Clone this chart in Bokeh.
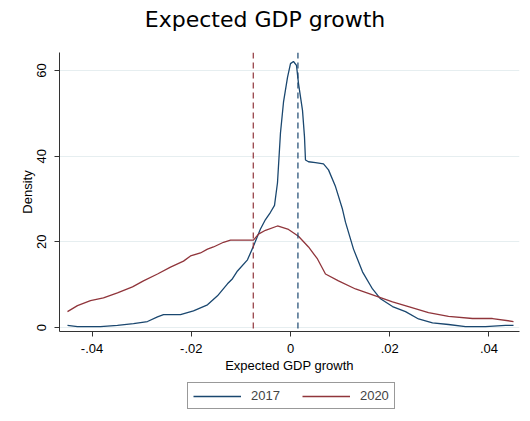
from bokeh.plotting import figure
from bokeh.models import Range1d, FixedTicker, Legend, LegendItem, Span, Div
from bokeh.layouts import column
from bokeh.embed import file_html
from bokeh.resources import INLINE

# Kernel density of expected GDP growth, 2017
x_2017 = [-0.04494, -0.04293, -0.03829, -0.03487, -0.03164, -0.02882, -0.02680, -0.02559,
          -0.02217, -0.01955, -0.01673, -0.01471, -0.01270, -0.01169, -0.01068, -0.00867,
          -0.00746, -0.00605, -0.00504, -0.00403, -0.00322, -0.00262, -0.00202, -0.00141,
          -0.00060, 0.00000, 0.00060, 0.00121, 0.00161, 0.00242, 0.00282, 0.00302,
          0.00363, 0.00504, 0.00665, 0.00766, 0.00907, 0.01048, 0.01108, 0.01270,
          0.01451, 0.01653, 0.01814, 0.02056, 0.02318, 0.02580, 0.02862, 0.03184,
          0.03527, 0.03930, 0.04333, 0.04494]
y_2017 = [0.5, 0.2, 0.2, 0.5, 0.9, 1.4, 2.5, 3.0,
          3.0, 3.9, 5.3, 7.4, 10.2, 11.4, 13.2, 15.8,
          19.0, 23.0, 25.2, 26.9, 28.5, 33.8, 45.4, 52.6,
          58.4, 61.6, 62.1, 61.2, 57.0, 50.7, 44.5, 39.1,
          38.7, 38.5, 38.2, 36.8, 32.9, 27.6, 24.6, 18.3,
          13.0, 9.0, 6.7, 4.9, 3.7, 2.0, 1.1, 0.7,
          0.2, 0.2, 0.5, 0.5]

# Kernel density of expected GDP growth, 2020
x_2020 = [-0.04494, -0.04293, -0.04031, -0.03769, -0.03487, -0.03184, -0.02963, -0.02680,
          -0.02418, -0.02156, -0.02015, -0.01814, -0.01673, -0.01552, -0.01350, -0.01209,
          -0.00746, -0.00645, -0.00504, -0.00262, -0.00040, 0.00161, 0.00363, 0.00544,
          0.00705, 0.00967, 0.01310, 0.01713, 0.02056, 0.02378, 0.02781, 0.03184,
          0.03668, 0.04071, 0.04494]
y_2020 = [3.7, 5.1, 6.3, 6.9, 8.1, 9.5, 10.9, 12.5,
          14.1, 15.5, 16.7, 17.4, 18.3, 18.8, 19.9, 20.4,
          20.4, 21.8, 22.7, 23.7, 22.9, 21.3, 18.8, 16.0,
          12.5, 10.9, 9.0, 7.4, 6.0, 4.9, 3.5, 2.6,
          2.1, 2.1, 1.4]

# Means (dashed reference lines)
mean_2017 = 0.0015
mean_2020 = -0.0075

title_text = "Expected GDP growth"
series_labels = ["2017", "2020"]
x_ticks = [-0.04, -0.02, 0.0, 0.02, 0.04]
x_tick_labels = ["-.04", "-.02", "0", ".02", ".04"]
y_ticks = [0, 20, 40, 60]

NAVY = "#1a476f"
MAROON = "#90353b"
FONT = "Liberation Sans"

title = Div(text=title_text, width=530, height=38,
            styles={"text-align": "center", "font-family": "DejaVu Sans", "font-size": "22px",
                    "line-height": "40px", "color": "#000000", "margin": "0", "padding": "0",
                    "width": "530px"})

p = figure(width=530, height=337, output_backend="svg", toolbar_location=None,
           x_range=Range1d(-0.04655, 0.04615), y_range=Range1d(-0.93, 64.2),
           min_border_left=59, min_border_right=11, min_border_top=14, min_border_bottom=42)

p.outline_line_color = None
p.background_fill_color = "white"
p.border_fill_color = "white"

p.xgrid.grid_line_color = None
p.ygrid.grid_line_color = "#e6eef0"
p.ygrid.grid_line_width = 1
p.ygrid.ticker = FixedTicker(ticks=y_ticks)

for ax in (p.xaxis[0], p.yaxis[0]):
    ax.axis_line_color = "#333333"
    ax.major_tick_line_color = "#333333"
    ax.major_tick_in = 0
    ax.major_tick_out = 5
    ax.minor_tick_line_color = None
    ax.major_label_text_font = FONT
    ax.major_label_text_font_size = "13px"
    ax.major_label_text_color = "#000000"
    ax.axis_label_text_font = FONT
    ax.axis_label_text_font_size = "13px"
    ax.axis_label_text_font_style = "normal"
    ax.axis_label_text_color = "#000000"

p.xaxis.ticker = FixedTicker(ticks=x_ticks)
p.xaxis.major_label_overrides = {t: l for t, l in zip(x_ticks, x_tick_labels)}
p.xaxis.axis_label = "Expected GDP growth"
p.xaxis.major_label_standoff = 7
p.xaxis.axis_label_standoff = 2

p.yaxis.ticker = FixedTicker(ticks=y_ticks)
p.yaxis.axis_label = "Density"
p.yaxis.major_label_orientation = "vertical"
p.yaxis.major_label_standoff = 8
p.yaxis.axis_label_standoff = 0

p.line(x_2017, y_2017, line_color=NAVY, line_width=1.3)
p.line(x_2020, y_2020, line_color=MAROON, line_width=1.3)

p.add_layout(Span(location=mean_2020, dimension="height", line_color=MAROON,
                  line_dash="6 4", line_width=1.2))
p.add_layout(Span(location=mean_2017, dimension="height", line_color=NAVY,
                  line_dash="6 4", line_width=1.2))

# Legend row underneath the plot (series drawn out of view; only their keys show)
lg = figure(width=530, height=35, output_backend="svg", toolbar_location=None,
            x_range=Range1d(-0.04655, 0.04615), y_range=Range1d(200, 201),
            x_axis_location=None, y_axis_location=None,
            min_border_left=0, min_border_right=0, min_border_top=0, min_border_bottom=0)
lg.outline_line_color = None
lg.grid.grid_line_color = None
k17 = lg.line(x_2017, y_2017, line_color=NAVY, line_width=1.3)
k20 = lg.line(x_2020, y_2020, line_color=MAROON, line_width=1.3)

legend = Legend(items=[LegendItem(label=series_labels[0], renderers=[k17]),
                       LegendItem(label=series_labels[1], renderers=[k20])],
                orientation="horizontal", location=(128, 1))
legend.label_text_font = FONT
legend.label_text_font_size = "13px"
legend.glyph_width = 48
legend.glyph_height = 14
legend.label_height = 14
legend.label_standoff = 10
legend.spacing = 22
legend.padding = 5
legend.margin = 0
legend.border_line_color = "#333333"
legend.border_line_width = 1
legend.background_fill_alpha = 1
lg.add_layout(legend)

layout = column(title, p, lg, spacing=0)
open("out.html", "w").write(file_html(layout, INLINE))
